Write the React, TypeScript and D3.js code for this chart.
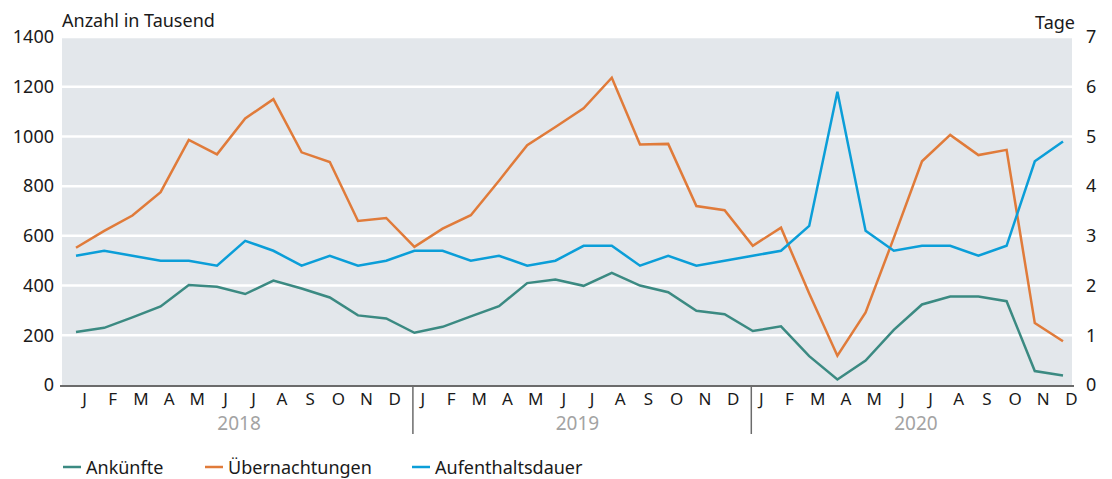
import React from 'react';
import * as d3 from 'd3';

const years = ['2018', '2019', '2020'];
const months = ['J', 'F', 'M', 'A', 'M', 'J', 'J', 'A', 'S', 'O', 'N', 'D'];

// Ankünfte in Tausend
const arrivals = [
  213, 230, 272, 316, 402, 395, 366, 420, 388, 352, 280, 268,
  210, 234, 276, 317, 410, 424, 399, 451, 400, 373, 299, 285,
  217, 236, 116, 22, 98, 222, 324, 356, 356, 337, 56, 38,
];

// Übernachtungen in Tausend
const overnights = [
  552, 620, 682, 776, 986, 928, 1072, 1150, 936, 897, 660, 672,
  556, 629, 683, 822, 965, 1038, 1113, 1236, 968, 970, 720, 703,
  560, 633, 368, 118, 292, 592, 900, 1006, 925, 946, 249, 176,
];

// Aufenthaltsdauer in Tagen
const stayDays = [
  2.6, 2.7, 2.6, 2.5, 2.5, 2.4, 2.9, 2.7, 2.4, 2.6, 2.4, 2.5,
  2.7, 2.7, 2.5, 2.6, 2.4, 2.5, 2.8, 2.8, 2.4, 2.6, 2.4, 2.5,
  2.6, 2.7, 3.2, 5.9, 3.1, 2.7, 2.8, 2.8, 2.6, 2.8, 4.5, 4.9,
];

const leftTicks = [0, 200, 400, 600, 800, 1000, 1200, 1400];
const rightTicks = [0, 1, 2, 3, 4, 5, 6, 7];

const FONT = '"Noto Sans", sans-serif';
const C_TEAL = '#3b8a82';
const C_ORANGE = '#e07b3a';
const C_BLUE = '#0b9ed8';

export default function App() {
  const width = 1112;
  const height = 479;
  const plot = { left: 62, right: 1072, top: 37, bottom: 385 };

  const n = arrivals.length;
  const x = d3.scaleLinear().domain([0, n - 1]).range([76, 1063]);
  const yLeft = d3.scaleLinear().domain([0, 1400]).range([plot.bottom, plot.top]);
  const yRight = d3.scaleLinear().domain([0, 7]).range([plot.bottom, plot.top]);

  const lineLeft = d3
    .line<number>()
    .x((d, i) => x(i))
    .y((d) => yLeft(d));
  const lineRight = d3
    .line<number>()
    .x((d, i) => x(i))
    .y((d) => yRight(d));

  const monthLabels = years.flatMap((yr, yi) =>
    months.map((m, mi) => ({ label: m, idx: yi * 12 + mi }))
  );

  return (
    <svg
      width={width}
      height={height}
      style={{ position: 'absolute', left: 0, top: 0, fontFamily: FONT }}
    >
      <rect x={0} y={0} width={width} height={height} fill="#ffffff" />
      <rect
        x={plot.left}
        y={plot.top}
        width={plot.right - plot.left}
        height={plot.bottom - plot.top}
        fill="#e3e7eb"
      />
      {leftTicks.slice(1).map((t) => (
        <line
          key={'g' + t}
          x1={plot.left}
          x2={plot.right}
          y1={yLeft(t)}
          y2={yLeft(t)}
          stroke="#ffffff"
          strokeWidth={2.5}
        />
      ))}

      {/* Achsentitel */}
      <text x={62} y={27} fontSize={18} fill="#1a1a1a">
        Anzahl in Tausend
      </text>
      <text x={1075} y={29} fontSize={18} fill="#1a1a1a" textAnchor="end">
        Tage
      </text>

      {leftTicks.map((t) => (
        <text
          key={'l' + t}
          x={54}
          y={yLeft(t)}
          dy="0.35em"
          fontSize={18}
          textAnchor="end"
          fill="#1a1a1a"
        >
          {t}
        </text>
      ))}
      {rightTicks.map((t) => (
        <text
          key={'r' + t}
          x={1086}
          y={yRight(t)}
          dy="0.35em"
          fontSize={18}
          fill="#1a1a1a"
        >
          {t}
        </text>
      ))}

      {/* Linien */}
      <path d={lineLeft(arrivals) || ''} fill="none" stroke={C_TEAL} strokeWidth={2.5} />
      <path d={lineLeft(overnights) || ''} fill="none" stroke={C_ORANGE} strokeWidth={2.5} />
      <path d={lineRight(stayDays) || ''} fill="none" stroke={C_BLUE} strokeWidth={2.5} />

      {/* x-Achse */}
      <line
        x1={plot.left - 2}
        x2={plot.right + 2}
        y1={plot.bottom + 1}
        y2={plot.bottom + 1}
        stroke="#6b6b6b"
        strokeWidth={2}
      />
      {monthLabels.map((m) => (
        <text
          key={'m' + m.idx}
          x={x(m.idx) + 8.5}
          y={405}
          fontSize={17}
          textAnchor="middle"
          fill="#1a1a1a"
        >
          {m.label}
        </text>
      ))}
      {[1, 2].map((yi) => (
        <line
          key={'div' + yi}
          x1={x(yi * 12) - 1.5}
          x2={x(yi * 12) - 1.5}
          y1={plot.bottom}
          y2={434}
          stroke="#6b6b6b"
          strokeWidth={1.5}
        />
      ))}
      {years.map((yr, yi) => (
        <text
          key={yr}
          x={(x(yi * 12) + x(yi * 12 + 11)) / 2 + 8}
          y={430}
          fontSize={19}
          textAnchor="middle"
          fill="#a3a3a3"
        >
          {yr}
        </text>
      ))}

      {/* Legende */}
      {[
        { label: 'Ankünfte', color: C_TEAL, x0: 63 },
        { label: 'Übernachtungen', color: C_ORANGE, x0: 205 },
        { label: 'Aufenthaltsdauer', color: C_BLUE, x0: 412 },
      ].map((l) => (
        <g key={l.label}>
          <line x1={l.x0} x2={l.x0 + 18} y1={467} y2={467} stroke={l.color} strokeWidth={2.5} />
          <text x={l.x0 + 23} y={474} fontSize={18} fill="#1a1a1a">
            {l.label}
          </text>
        </g>
      ))}
    </svg>
  );
}
